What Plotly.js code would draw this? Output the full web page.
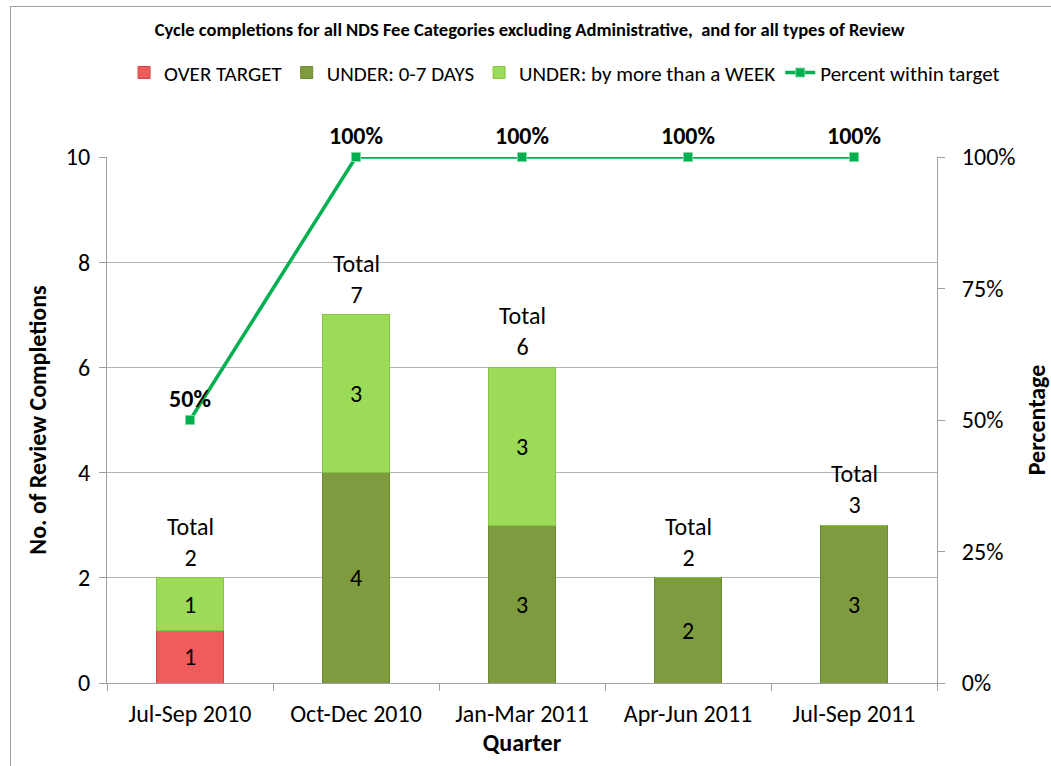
<!DOCTYPE html>
<html>
<head>
<meta charset="utf-8">
<script src="https://cdn.plot.ly/plotly-3.0.1.min.js"></script>
<style>
  body { margin: 0; padding: 0; background: #fff; }
  #wrap { position: relative; width: 1051px; height: 766px; overflow: hidden; }
  #chart { position: absolute; left: 0; top: 0; width: 1051px; height: 766px; }
  #frame { position: absolute; left: 10px; top: 6px; width: 1060px; height: 780px; border: 1px solid #a0a0a0; pointer-events: none; }
</style>
</head>
<body>
<div id="wrap"><div id="chart"></div><div id="frame"></div></div>
<script>
const quarters = ["Jul-Sep 2010", "Oct-Dec 2010", "Jan-Mar 2011", "Apr-Jun 2011", "Jul-Sep 2011"];
const overTarget = [1, 0, 0, 0, 0];
const under07 = [0, 4, 3, 2, 3];
const underWeek = [1, 3, 3, 0, 0];
const pctWithin = [0.5, 1, 1, 1, 1];
const seriesNames = ["OVER TARGET", "UNDER: 0-7 DAYS", "UNDER: by more than a WEEK", "Percent within target"];
const chartTitle = "Cycle completions for all NDS Fee Categories excluding Administrative,  and for all types of Review";

const FONT = "Carlito, Calibri, 'Open Sans', 'Liberation Sans', sans-serif";
const totals = quarters.map((q, i) => overTarget[i] + under07[i] + underWeek[i]);
const lbl = arr => arr.map(v => v > 0 ? String(v) : "");

function barTrace(name, vals, color, line) {
  return {
    type: "bar", name: name, x: quarters, y: vals,
    width: 0.4,
    marker: { color: color, line: { color: line, width: 1 } },
    text: lbl(vals), textposition: "inside", insidetextanchor: "middle",
    textfont: { family: FONT, size: 24, color: "#000" },
    constraintext: "none",
    hoverinfo: "x+y+name", cliponaxis: false
  };
}

const traces = [
  barTrace(seriesNames[0], overTarget, "#F25B5B", "#D04545"),
  barTrace(seriesNames[1], under07, "#7E9C3F", "#6A8830"),
  barTrace(seriesNames[2], underWeek, "#9CDB58", "#86C445"),
  {
    type: "scatter", mode: "lines+markers+text", name: seriesNames[3],
    x: quarters, y: pctWithin, yaxis: "y2",
    line: { color: "#00B050", width: 3.5 },
    marker: { symbol: "square", size: 9, color: "#00B050", line: { color: "#7FD8A0", width: 1 } },
    text: pctWithin.map(v => Math.round(v * 100) + "%"),
    textposition: "top center",
    textfont: { family: FONT, size: 24, color: "#000", weight: "bold" },
    cliponaxis: false
  }
];

const annotations = quarters.map((q, i) => ({
  x: q, y: totals[i], xref: "x", yref: "y",
  text: "Total<br>" + totals[i],
  showarrow: false, yanchor: "bottom", yshift: 4,
  font: { family: FONT, size: 24, color: "#000" }
}));

const layout = {
  width: 1051, height: 766,
  margin: { l: 107, r: 114, t: 157, b: 83 },
  paper_bgcolor: "#fff", plot_bgcolor: "#fff",
  barmode: "stack",
  font: { family: FONT, size: 24, color: "#000" },
  title: {
    text: "<b>" + chartTitle + "</b>",
    font: { family: FONT, size: 18.5, color: "#000" },
    x: 0.504, xref: "container", xanchor: "center",
    y: 0.961, yref: "container", yanchor: "middle"
  },
  showlegend: true,
  legend: {
    orientation: "h", x: 1.082, xref: "paper", xanchor: "right",
    y: 1.16, yref: "paper", yanchor: "middle",
    font: { family: FONT, size: 21, color: "#000" },
    traceorder: "normal", itemwidth: 30, tracegroupgap: 0
  },
  xaxis: {
    type: "category",
    showline: true, linecolor: "#a0a0a0", linewidth: 1,
    ticks: "outside", tickson: "boundaries", ticklen: 7, tickcolor: "#a0a0a0",
    ticklabelstandoff: 9,
    tickfont: { family: FONT, size: 24, color: "#000" },
    title: { text: "<b>Quarter</b>", font: { family: FONT, size: 24, color: "#000" }, standoff: 0 },
    showgrid: false
  },
  yaxis: {
    range: [0, 10], dtick: 2, tick0: 0,
    showline: true, linecolor: "#a0a0a0", linewidth: 1,
    ticks: "outside", ticklen: 7, tickcolor: "#a0a0a0",
    ticklabelstandoff: 4,
    showgrid: true, gridcolor: "#b4b4b4", gridwidth: 1, zeroline: false,
    tickfont: { family: FONT, size: 24, color: "#000" },
    title: { text: "<b>No. of Review Completions</b>", font: { family: FONT, size: 24, color: "#000" }, standoff: 12 }
  },
  yaxis2: {
    overlaying: "y", side: "right",
    range: [0, 1], dtick: 0.25, tick0: 0, tickformat: ".0%",
    showline: true, linecolor: "#a0a0a0", linewidth: 1,
    ticks: "outside", ticklen: 7, tickcolor: "#a0a0a0",
    ticklabelstandoff: 12,
    showgrid: false, zeroline: false,
    tickfont: { family: FONT, size: 24, color: "#000" },
    title: { text: "<b>Percentage</b>", font: { family: FONT, size: 24, color: "#000" }, standoff: 14 }
  },
  annotations: annotations
};

Plotly.newPlot("chart", traces, layout, { displayModeBar: false, staticPlot: true });
</script>
</body>
</html>
